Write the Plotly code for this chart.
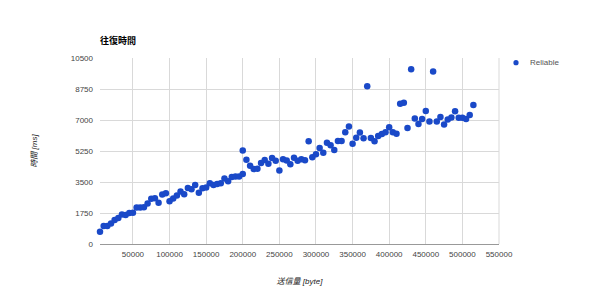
import plotly.graph_objects as go

# Data
sent_bytes = [
    5000, 10000, 15000, 20000, 25000, 30000, 35000, 40000, 45000, 50000,
    55000, 60000, 65000, 70000, 75000, 80000, 85000, 90000, 95000, 100000,
    105000, 110000, 115000, 120000, 125000, 130000, 135000, 140000, 145000, 150000,
    155000, 160000, 165000, 170000, 175000, 180000, 185000, 190000, 195000, 200000,
    200000, 205000, 210000, 215000, 220000, 225000, 230000, 235000, 240000, 245000,
    250000, 255000, 260000, 265000, 270000, 275000, 280000, 285000, 290000, 295000,
    300000, 305000, 310000, 315000, 320000, 325000, 330000, 335000, 340000, 345000,
    350000, 355000, 360000, 365000, 370000, 375000, 380000, 385000, 390000, 395000,
    400000, 405000, 410000, 415000, 420000, 425000, 430000, 435000, 440000, 445000,
    450000, 455000, 460000, 465000, 470000, 475000, 480000, 485000, 490000, 495000,
    500000, 505000, 510000, 515000,
]
round_trip_ms = [
    692, 1013, 1013, 1159, 1350, 1463, 1667, 1632, 1744, 1763,
    2060, 2060, 2078, 2285, 2549, 2586, 2324, 2793, 2870, 2418,
    2567, 2736, 2960, 2812, 3168, 3093, 3337, 2895, 3150, 3187,
    3430, 3337, 3393, 3430, 3693, 3543, 3787, 3805, 3805, 3950,
    5280, 4760, 4423, 4230, 4245, 4575, 4735, 4525, 4856, 4705,
    4150, 4783, 4720, 4500, 4873, 4700, 4783, 4727, 5796, 4895,
    5064, 5420, 5155, 5717, 5570, 5300, 5813, 5813, 6302, 6640,
    5661, 5998, 6290, 5965, 8908, 5990, 5796, 6100, 6207, 6310,
    6590, 6310, 6230, 7912, 7980, 6555, 9864, 7080, 6769, 7060,
    7510, 6921, 9735, 6910, 7163, 6752, 7034, 7146, 7501, 7120,
    7120, 7060, 7285, 7845,
]
series_name = "Reliable"
chart_title = "往復時間"
x_title = "送信量 [byte]"
y_title = "時間 [ms]"
x_ticks = [50000, 100000, 150000, 200000, 250000, 300000, 350000, 400000, 450000, 500000, 550000]
y_ticks = [0, 1750, 3500, 5250, 7000, 8750, 10500]

FONT = "Arial, 'Liberation Sans', 'Noto Sans CJK JP', sans-serif"
MARKER_COLOR = "#1a49c8"

W, H = 600, 303
ML, MR, MT, MB = 100, 101, 58, 59
PW, PH = W - ML - MR, H - MT - MB

fig = go.Figure()
fig.add_trace(go.Scatter(
    x=sent_bytes, y=round_trip_ms, mode="markers", name=series_name,
    marker=dict(size=6.5, color=MARKER_COLOR, line=dict(width=0)),
    cliponaxis=False, showlegend=False,
))

fig.update_layout(
    width=W, height=H,
    margin=dict(l=ML, r=MR, t=MT, b=MB),
    paper_bgcolor="white", plot_bgcolor="white",
    font=dict(family=FONT, size=8, color="#444"),
    title=dict(text="<b>" + chart_title + "</b>", x=ML / W, xanchor="left",
               y=1 - 41 / H, yanchor="middle",
               font=dict(family=FONT, size=9, color="#000")),
    showlegend=False,
    xaxis=dict(
        range=[5000, 550000], tickvals=x_ticks, ticktext=[str(v) for v in x_ticks],
        showgrid=True, gridcolor="#d9d9d9", gridwidth=1, zeroline=False,
        showline=False, ticks="", ticklabelstandoff=4,
        tickfont=dict(family=FONT, size=8, color="#444"),
        title=dict(text="<i>" + x_title + "</i>", standoff=20,
                   font=dict(family=FONT, size=8, color="#222")),
    ),
    yaxis=dict(
        range=[0, 10500], tickvals=y_ticks, ticktext=[str(v) for v in y_ticks],
        showgrid=True, gridcolor="#d9d9d9", gridwidth=1,
        zeroline=True, zerolinecolor="#999999", zerolinewidth=1,
        showline=False, ticks="", ticklabelstandoff=6,
        tickfont=dict(family=FONT, size=8, color="#444"),
        title=dict(text="<i>" + y_title + "</i>", standoff=31,
                   font=dict(family=FONT, size=8, color="#222")),
    ),
)
# right border gridline
fig.add_shape(type="line", xref="paper", yref="paper", x0=1, x1=1, y0=0, y1=1,
              line=dict(color="#d9d9d9", width=1), layer="below")

# legend (drawn manually to match position)
lx = (516 - ML) / PW
ly = 1 - (62.7 - MT) / PH
r = 2.6
fig.add_shape(type="circle", xref="paper", yref="paper",
              x0=lx - r / PW, x1=lx + r / PW, y0=ly - r / PH, y1=ly + r / PH,
              fillcolor=MARKER_COLOR, line=dict(width=0))
fig.add_annotation(xref="paper", yref="paper", x=(528 - ML) / PW, y=ly,
                   xanchor="left", yanchor="middle", showarrow=False,
                   text=series_name, font=dict(family=FONT, size=8, color="#555"))

fig.write_html("out.html")
